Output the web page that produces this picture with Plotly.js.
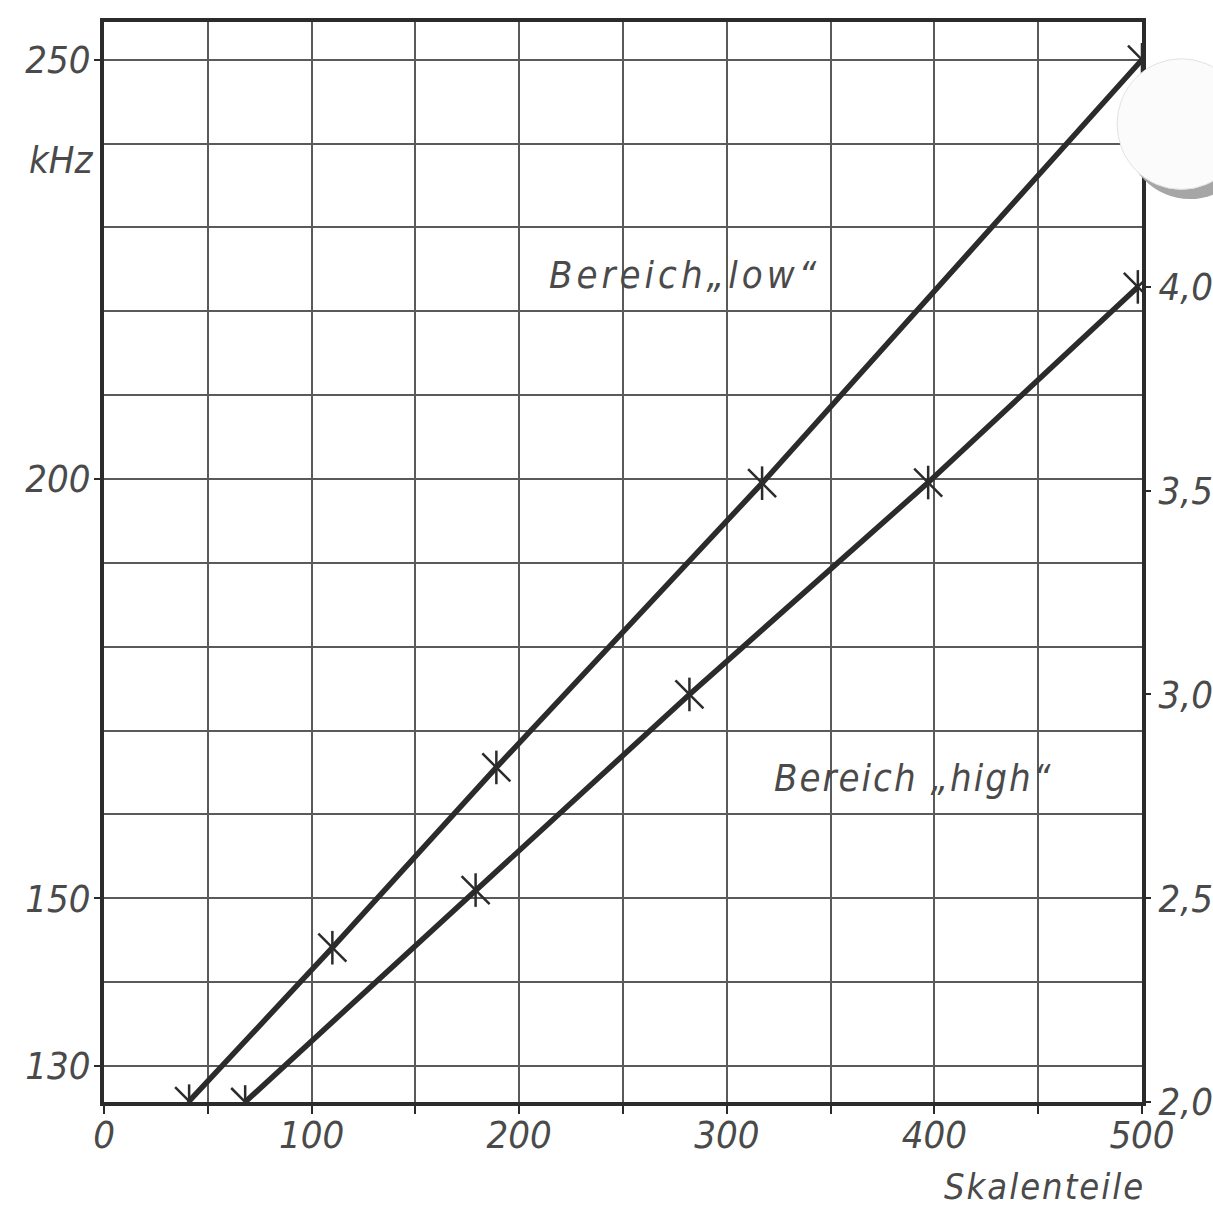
<!DOCTYPE html>
<html><head><meta charset="utf-8">
<script src="https://cdn.plot.ly/plotly-3.0.1.min.js"></script>
<style>
html,body{margin:0;padding:0;background:#fff}
#chart{width:1213px;height:1208px}
#chart g.annotation[data-index="0"] text{letter-spacing:4px}
#chart g.annotation[data-index="1"] text{letter-spacing:2px}
#chart g.annotation[data-index="3"] text{letter-spacing:2px}
</style>
</head><body><div id="chart"></div>
<script>
// Bereich "low" (left axis, kHz)
const lowX = [41, 110, 189, 317, 500];
const lowKHz = [125.8, 144.1, 165.6, 199.5, 250];
// Bereich "high" (right axis, MHz)
const highX = [68, 179, 282, 397, 498];
const highMHz = [2.0, 2.52, 3.0, 3.52, 4.0];

const xTickVals = [0, 100, 200, 300, 400, 500];
const xTickText = ['0', '100', '200', '300', '400', '500'];
const leftTickVals = [130, 150, 200, 250];
const leftTickText = ['130', '150', '200', '250'];
const rightTickVals = [2.0, 2.5, 3.0, 3.5, 4.0];
const rightTickText = ['2,0', '2,5', '3,0', '3,5', '4,0'];

const labelLow = 'Bereich\u201Elow\u201C';
const labelHigh = 'Bereich \u201Ehigh\u201C';
const unitLeft = 'kHz';
const unitX = 'Skalenteile';

const FONT = "'DejaVu Sans Condensed', 'DejaVu Sans', sans-serif";
const ink = '#2b2b2b';
const gridC = '#5a5a5a';
const txtC = '#4a4a4a';
const tf = {family: FONT, size: 38, color: txtC, style: 'italic'};

const xMark = {symbol: 'x-thin-open', size: 28, color: ink, line: {color: ink, width: 2.5}};
const vMark = {symbol: 'line-ns-open', size: 24, color: ink, line: {color: ink, width: 2.5}};

const traces = [
  {x: lowX, y: lowKHz, yaxis: 'y', mode: 'lines+markers', line: {color: ink, width: 5.5},
   marker: xMark, hoverinfo: 'skip'},
  {x: lowX, y: lowKHz, yaxis: 'y', mode: 'markers', marker: vMark, hoverinfo: 'skip'},
  {x: highX, y: highMHz, yaxis: 'y2', mode: 'lines+markers', line: {color: ink, width: 5.5},
   marker: xMark, hoverinfo: 'skip'},
  {x: highX, y: highMHz, yaxis: 'y2', mode: 'markers', marker: vMark, hoverinfo: 'skip'}
];

const layout = {
  width: 1213, height: 1208,
  margin: {l: 104, r: 71, t: 22, b: 106},
  paper_bgcolor: '#ffffff', plot_bgcolor: '#ffffff',
  showlegend: false,
  xaxis: {
    range: [0, 500], tickvals: xTickVals, ticktext: xTickText,
    ticks: 'outside', ticklen: 8, tickwidth: 2, tickcolor: ink, ticklabelstandoff: -12,
    showgrid: true, gridcolor: gridC, gridwidth: 2,
    minor: {tick0: 0, dtick: 50, showgrid: true, gridcolor: gridC, gridwidth: 2,
            ticks: 'outside', ticklen: 8, tickwidth: 2, tickcolor: ink},
    showline: true, mirror: true, linecolor: ink, linewidth: 4, zeroline: false,
    tickfont: tf, fixedrange: true
  },
  yaxis: {
    range: [125.7, 254.5], tickvals: leftTickVals, ticktext: leftTickText,
    ticks: 'outside', ticklen: 6, tickwidth: 2, tickcolor: ink, ticklabelstandoff: -4,
    showgrid: true, gridcolor: gridC, gridwidth: 2,
    minor: {tick0: 130, dtick: 10, showgrid: true, gridcolor: gridC, gridwidth: 2, ticks: ''},
    showline: true, mirror: true, linecolor: ink, linewidth: 4, zeroline: false,
    tickfont: tf, fixedrange: true
  },
  yaxis2: {
    overlaying: 'y', side: 'right', range: [2.0, 4.65],
    tickvals: rightTickVals, ticktext: rightTickText,
    ticks: 'outside', ticklen: 8, tickwidth: 2, tickcolor: ink,
    showgrid: false, zeroline: false, showline: false,
    tickfont: tf, fixedrange: true
  },
  annotations: [
    {text: labelLow, x: 280, y: 224.3, xref: 'x', yref: 'y', showarrow: false,
     font: {family: FONT, size: 38, color: txtC, style: 'italic'}},
    {text: labelHigh, x: 390, y: 164.4, xref: 'x', yref: 'y', showarrow: false,
     font: {family: FONT, size: 38, color: txtC, style: 'italic'}},
    {text: unitLeft, x: 0, y: 238, xref: 'paper', yref: 'y', xanchor: 'right', xshift: -8,
     showarrow: false, font: tf},
    {text: unitX, x: 1, y: 0, xref: 'paper', yref: 'paper', xanchor: 'right', yanchor: 'top',
     xshift: -6, yshift: -62, showarrow: false,
     font: {family: FONT, size: 36, color: txtC, style: 'italic'}}
  ],
  shapes: [
    {type: 'circle', xref: 'paper', yref: 'paper', layer: 'above',
     x0: 0.984, x1: 1.108, y0: 0.836, y1: 0.958, fillcolor: '#a6a6a6', line: {width: 0}},
    {type: 'circle', xref: 'paper', yref: 'paper', layer: 'above',
     x0: 0.976, x1: 1.100, y0: 0.845, y1: 0.966, fillcolor: '#fbfbfb', line: {color: '#e2e2e2', width: 1}}
  ]
};

Plotly.newPlot('chart', traces, layout, {displayModeBar: false, staticPlot: true});
</script>
</body></html>
